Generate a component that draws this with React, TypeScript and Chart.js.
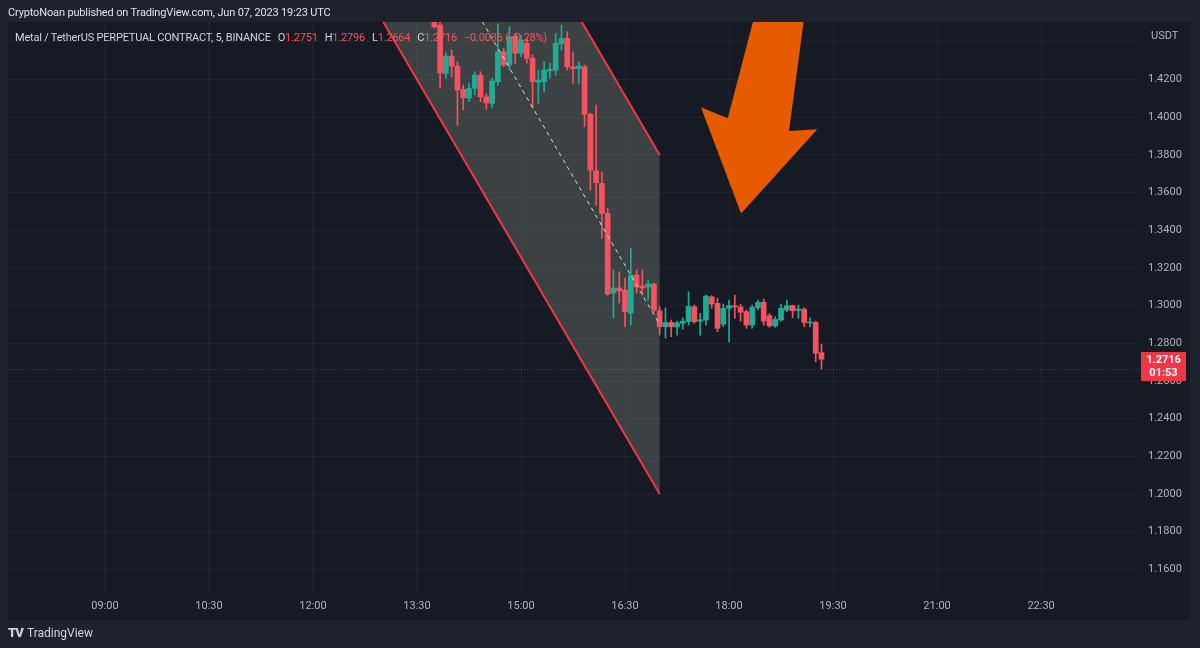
import React, { useEffect, useRef } from "react";
import { Chart, registerables } from "chart.js";
Chart.register(...registerables);

// ---- Data (5-minute candles, METAL/USDT perpetual, Binance) ----
const times = [
  "13:45","13:50","13:55","14:00","14:05","14:10","14:15","14:20","14:25","14:30",
  "14:35","14:40","14:45","14:50","14:55","15:00","15:05","15:10","15:15","15:20",
  "15:25","15:30","15:35","15:40","15:45","15:50","15:55","16:00","16:05","16:10",
  "16:15","16:20","16:25","16:30","16:35","16:40","16:45","16:50","16:55","17:00",
  "17:05","17:10","17:15","17:20","17:25","17:30","17:35","17:40","17:45","17:50",
  "17:55","18:00","18:05","18:10","18:15","18:20","18:25","18:30","18:35","18:40",
  "18:45","18:50","18:55","19:00","19:05","19:10","19:15","19:20",
];
const opens = [
  1.4570,1.4490,1.4233,1.4325,1.4272,1.4148,1.4101,1.4154,1.4224,1.4109,
  1.4074,1.4189,1.4348,1.4278,1.4431,1.4340,1.4393,1.4313,1.4186,1.4189,
  1.4246,1.4251,1.4389,1.4419,1.4268,1.4258,1.4268,1.4016,1.3716,1.3649,
  1.3490,1.3067,1.3094,1.3083,1.2961,1.3163,1.3104,1.3099,1.3115,1.2973,
  1.2888,1.2911,1.2887,1.2906,1.2915,1.2994,1.2918,1.2924,1.3047,1.3012,
  1.2901,1.2986,1.3000,1.2994,1.2968,1.2897,1.2989,1.3018,1.2947,1.2892,
  1.2924,1.2977,1.3000,1.2975,1.2982,1.2908,1.2911,1.2751,
];
const highs = [
  1.4596,1.4506,1.4343,1.4357,1.4295,1.4171,1.4180,1.4242,1.4242,1.4127,
  1.4207,1.4495,1.4366,1.4481,1.4446,1.4437,1.4419,1.4331,1.4251,1.4295,
  1.4287,1.4446,1.4490,1.4454,1.4348,1.4295,1.4278,1.4023,1.4065,1.3711,
  1.3518,1.3189,1.3180,1.3147,1.3306,1.3189,1.3189,1.3136,1.3120,1.2994,
  1.2989,1.2924,1.2918,1.2936,1.3074,1.3003,1.2959,1.3056,1.3053,1.3039,
  1.3009,1.3030,1.3056,1.3007,1.2977,1.3003,1.3030,1.3035,1.2959,1.2941,
  1.3007,1.3030,1.3003,1.3003,1.2989,1.2936,1.2918,1.2796,
];
const lows = [
  1.4474,1.4155,1.4207,1.4215,1.3959,1.4039,1.4083,1.4118,1.4083,1.4042,
  1.4048,1.4171,1.4268,1.4251,1.4287,1.4322,1.4287,1.4049,1.4074,1.4136,
  1.4207,1.4224,1.4357,1.4251,1.4180,1.4180,1.3950,1.3614,1.3534,1.3359,
  1.3056,1.2934,1.3014,1.2888,1.2897,1.3067,1.3056,1.3030,1.2966,1.2844,
  1.2828,1.2835,1.2844,1.2876,1.2897,1.2906,1.2844,1.2897,1.2986,1.2862,
  1.2888,1.2808,1.2933,1.2918,1.2880,1.2880,1.2977,1.2897,1.2885,1.2885,
  1.2918,1.2968,1.2936,1.2933,1.2888,1.2888,1.2702,1.2664,
];
const closes = [
  1.4479,1.4235,1.4325,1.4272,1.4145,1.4104,1.4154,1.4224,1.4109,1.4077,
  1.4193,1.4348,1.4278,1.4428,1.4340,1.4410,1.4313,1.4189,1.4198,1.4251,
  1.4255,1.4393,1.4419,1.4268,1.4258,1.4272,1.4016,1.3720,1.3653,1.3490,
  1.3062,1.3094,1.3079,1.2968,1.3163,1.3100,1.3094,1.3115,1.2977,1.2888,
  1.2911,1.2888,1.2909,1.2918,1.2996,1.2915,1.2925,1.3051,1.3009,1.2880,
  1.2986,1.3000,1.2993,1.2965,1.2897,1.2991,1.3018,1.2918,1.2893,1.2927,
  1.2986,1.3000,1.2973,1.2982,1.2911,1.2911,1.2747,1.2716,
];

// Parallel channel drawing (time, price)
const channelTimes = ["12:45", "17:00"];
const channelLower = [1.4672, 1.2];
const channelUpper = [1.6472, 1.38];

// Orange arrow drawing (time in minutes of day, price)
const arrowTimes = [1103.8, 1146.1, 1131.9, 1156.4, 1090.4, 1055.7, 1078.9];
const arrowPrices = [1.458, 1.458, 1.3927, 1.3936, 1.349, 1.4053, 1.3995];

// Axis ranges / ticks
const xMin = 456.1;
const xMax = 1435.6;
const yMin = 1.148;
const yMax = 1.4506;
const timeStep = 90;
const priceStep = 0.02;
const lastPrice = 1.2716;
const lastLow = 1.2664;
const countdown = "01:53";

const FONT = "Roboto, 'Noto Sans', sans-serif";
const UP = "#22ab94";
const DOWN = "#f7525f";
const RED = "#f23645";

const toMin = (t: string) => {
  const [h, m] = t.split(":").map(Number);
  return h * 60 + m;
};
const fmtTime = (v: number) => {
  const h = Math.floor(v / 60);
  const m = Math.round(v % 60);
  return `${String(h).padStart(2, "0")}:${String(m).padStart(2, "0")}`;
};

const overlayPlugin = {
  id: "overlay",
  beforeDraw(chart: any) {
    const ctx = chart.ctx;
    ctx.save();
    ctx.fillStyle = "#161a25";
    ctx.fillRect(8, 22, 1182, 598);
    ctx.restore();
  },
  beforeDatasetsDraw(chart: any) {
    const { ctx, chartArea: a, scales } = chart;
    const xs = scales.x, ys = scales.y;
    ctx.save();
    ctx.beginPath();
    ctx.rect(a.left, a.top, a.right - a.left, a.bottom - a.top);
    ctx.clip();
    const t0 = xs.getPixelForValue(toMin(channelTimes[0]));
    const t1 = xs.getPixelForValue(toMin(channelTimes[1]));
    ctx.beginPath();
    ctx.moveTo(t0, ys.getPixelForValue(channelLower[0]));
    ctx.lineTo(t1, ys.getPixelForValue(channelLower[1]));
    ctx.lineTo(t1, ys.getPixelForValue(channelUpper[1]));
    ctx.lineTo(t0, ys.getPixelForValue(channelUpper[0]));
    ctx.closePath();
    ctx.fillStyle = "rgba(128,138,126,0.36)";
    ctx.fill();
    ctx.restore();
  },
  afterDatasetsDraw(chart: any) {
    const { ctx, chartArea: a, scales } = chart;
    const xs = scales.x, ys = scales.y;
    ctx.save();
    ctx.beginPath();
    ctx.rect(a.left, a.top, a.right - a.left, a.bottom - a.top);
    ctx.clip();
    const t0 = xs.getPixelForValue(toMin(channelTimes[0]));
    const t1 = xs.getPixelForValue(toMin(channelTimes[1]));
    // last-price dotted line
    ctx.strokeStyle = "rgba(200,204,214,0.25)";
    ctx.lineWidth = 1;
    ctx.setLineDash([1, 2]);
    const yl = Math.round(ys.getPixelForValue(lastLow)) + 0.5;
    ctx.beginPath();
    ctx.moveTo(a.left, yl);
    ctx.lineTo(a.right, yl);
    ctx.stroke();
    // mid dashed
    ctx.setLineDash([4, 4]);
    ctx.strokeStyle = "rgba(235,235,235,0.9)";
    ctx.beginPath();
    ctx.moveTo(t0, ys.getPixelForValue((channelLower[0] + channelUpper[0]) / 2));
    ctx.lineTo(t1, ys.getPixelForValue((channelLower[1] + channelUpper[1]) / 2));
    ctx.stroke();
    ctx.setLineDash([]);
    // channel borders
    ctx.strokeStyle = RED;
    ctx.lineWidth = 2;
    ctx.beginPath();
    ctx.moveTo(t0, ys.getPixelForValue(channelLower[0]));
    ctx.lineTo(t1, ys.getPixelForValue(channelLower[1]));
    ctx.moveTo(t0, ys.getPixelForValue(channelUpper[0]));
    ctx.lineTo(t1, ys.getPixelForValue(channelUpper[1]));
    ctx.stroke();
    // arrow
    ctx.beginPath();
    arrowTimes.forEach((t, i) => {
      const px = xs.getPixelForValue(t);
      const py = ys.getPixelForValue(arrowPrices[i]);
      if (i === 0) ctx.moveTo(px, py);
      else ctx.lineTo(px, py);
    });
    ctx.closePath();
    ctx.fillStyle = "#e65a00";
    ctx.fill();
    ctx.restore();
  },
  afterDraw(chart: any) {
    const { ctx, scales } = chart;
    const y = Math.round(scales.y.getPixelForValue(lastPrice));
    ctx.save();
    ctx.fillStyle = RED;
    ctx.fillRect(1141, y - 7, 45, 29);
    ctx.fillStyle = "#ffffff";
    ctx.textAlign = "center";
    ctx.textBaseline = "middle";
    ctx.font = `bold 11px ${FONT}`;
    ctx.fillText(lastPrice.toFixed(4), 1163.5, y + 1);
    ctx.fillText(countdown, 1163.5, y + 14);
    ctx.restore();
  },
};

export default function App() {
  const ref = useRef<HTMLCanvasElement>(null);
  useEffect(() => {
    if (!ref.current) return;
    const xs = times.map(toMin);
    const colors = closes.map((c, i) => (c >= opens[i] ? UP : DOWN));
    const chart = new Chart(ref.current, {
      type: "bar",
      data: {
        datasets: [
          {
            label: "wick",
            data: xs.map((x, i) => ({ x, y: [lows[i], highs[i]] })) as any,
            backgroundColor: colors,
            barThickness: 1,
            grouped: false,
            borderWidth: 0,
            order: 2,
          } as any,
          {
            label: "body",
            data: xs.map((x, i) => ({ x, y: [opens[i], closes[i]] })) as any,
            backgroundColor: colors,
            barThickness: 5,
            minBarLength: 1,
            grouped: false,
            borderWidth: 0,
            order: 1,
          } as any,
        ],
      },
      options: {
        animation: false,
        responsive: false,
        maintainAspectRatio: false,
        events: [],
        layout: { padding: { left: 8, top: 22, right: 10, bottom: 28 } },
        plugins: { legend: { display: false }, tooltip: { enabled: false } },
        scales: {
          x: {
            type: "linear",
            min: xMin,
            max: xMax,
            offset: false,
            grid: { color: "rgba(255,255,255,0.045)", drawTicks: false, offset: false },
            border: { display: false },
            ticks: {
              stepSize: timeStep,
              includeBounds: false,
              autoSkip: false,
              maxRotation: 0,
              color: "#b2b5be",
              font: { family: FONT, size: 11 },
              padding: 8,
              callback: (v: any) => fmtTime(Number(v)),
            },
            afterFit: (s: any) => {
              s.height = 28;
            },
          },
          y: {
            type: "linear",
            position: "right",
            min: yMin,
            max: yMax,
            grid: { color: "rgba(255,255,255,0.045)", drawTicks: false },
            border: { display: false },
            ticks: {
              stepSize: priceStep,
              includeBounds: false,
              color: "#b2b5be",
              font: { family: FONT, size: 11 },
              padding: 8,
              callback: (v: any) => (Number(v) > 1.43 ? "" : Number(v).toFixed(4)),
            },
            afterFit: (s: any) => {
              s.width = 50;
            },
          },
        },
      } as any,
      plugins: [overlayPlugin],
    });
    return () => chart.destroy();
  }, []);

  const lbl = { color: "#d1d4dc" };
  const val = { color: DOWN };
  return (
    <div
      style={{
        position: "fixed",
        left: 0,
        top: 0,
        width: 1200,
        height: 648,
        background: "#1e222d",
        fontFamily: FONT,
        overflow: "hidden",
      }}
    >
      <canvas ref={ref} width={1200} height={648} style={{ position: "absolute", left: 0, top: 0, width: 1200, height: 648 }} />
      <div style={{ position: "absolute", left: 8, top: 6, fontSize: 11, letterSpacing: -0.15, color: "#e0e3eb", whiteSpace: "nowrap" }}>
        CryptoNoan published on TradingView.com, Jun 07, 2023 19:23 UTC
      </div>
      <div style={{ position: "absolute", left: 15, top: 31, fontSize: 11, letterSpacing: -0.2, color: "#d1d4dc", whiteSpace: "nowrap" }}>
        <span>Metal / TetherUS PERPETUAL CONTRACT, 5, BINANCE</span>
        <span style={{ marginLeft: 7, ...lbl }}>O</span>
        <span style={val}>1.2751</span>
        <span style={{ marginLeft: 7, ...lbl }}>H</span>
        <span style={val}>1.2796</span>
        <span style={{ marginLeft: 7, ...lbl }}>L</span>
        <span style={val}>1.2664</span>
        <span style={{ marginLeft: 7, ...lbl }}>C</span>
        <span style={val}>1.2716</span>
        <span style={{ marginLeft: 7, ...val }}>−0.0036 (−0.28%)</span>
      </div>
      <div style={{ position: "absolute", left: 1151, top: 29, fontSize: 11, color: "#b2b5be" }}>USDT</div>
      <div style={{ position: "absolute", left: 8, top: 625, fontSize: 12, color: "#d1d4dc", whiteSpace: "nowrap", display: "flex", alignItems: "center" }}>
        <span style={{ fontWeight: 900, fontSize: 13, letterSpacing: -1, marginRight: 4 }}>TV</span>
        <span>TradingView</span>
      </div>
    </div>
  );
}
